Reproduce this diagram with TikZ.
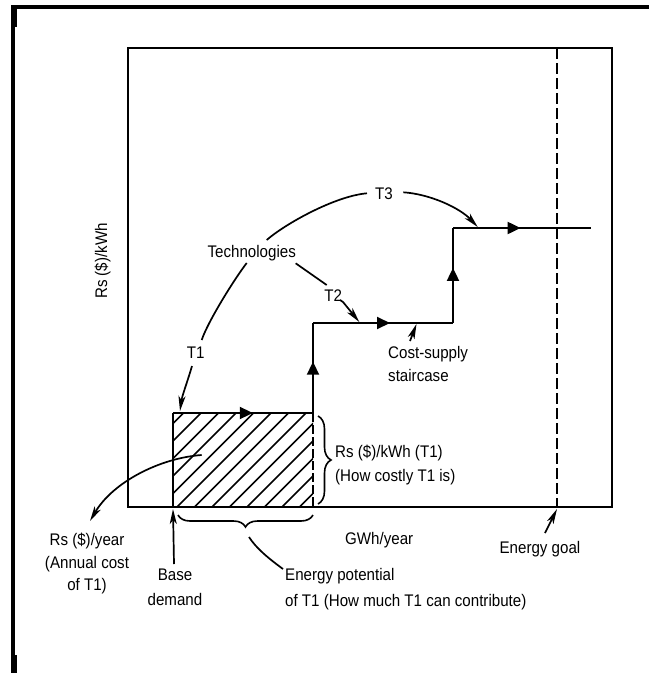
\documentclass[tikz,border=0pt]{standalone}
\usepackage{fontspec}
\setmainfont{Liberation Sans}[FakeStretch=0.9]
\usetikzlibrary{arrows.meta,decorations.pathreplacing,decorations.markings}
\tikzset{
  lbl/.style={inner sep=0pt, font=\fontsize{16.8}{20}\selectfont, anchor=base},
  lblw/.style={lbl, anchor=base west},
  boxline/.style={line width=2pt},
  stair/.style={line width=2pt},
  curve/.style={line width=1.7pt},
  carrow/.style={curve, -{Stealth[length=15pt,width=7pt,inset=4pt]}},
  hatchline/.style={line width=1.6pt},
  midarrow/.style={postaction={decorate}, decoration={markings,
      mark=at position #1 with {\arrow{Triangle[length=13pt,width=12pt]}}}},
  bracedeco/.style={line width=1.6pt, decorate, decoration={brace, amplitude=#1}}
}
\begin{document}
\begin{tikzpicture}[x=1pt,y=-1pt]
\useasboundingbox (0,0) rectangle (649,673);
% outer frame
\fill (11,5) rectangle (649,8.5);
\fill (11,5) rectangle (15,673);
\fill (11,5) rectangle (16.5,27);
\fill (11,655) rectangle (16.5,673);
% inner box
\draw[boxline] (128,48) rectangle (612,507);
% energy goal dashed line
\draw[line width=1.6pt, dash pattern=on 11pt off 4pt] (557,48) -- (557,507);

% hatched rectangle
\begin{scope}
  \clip (173,413) rectangle (313,507);
  \foreach \i in {0,...,14}{
    \draw[hatchline] ({72+\i*17.5},507) -- ++(94,-94);
  }
\end{scope}
\draw[line width=1.8pt, dash pattern=on 9pt off 3pt] (313,413) -- (313,507);
\draw[stair] (173,507) -- (173,413);

% staircase
\coordinate (s1) at (173,413);
\coordinate (s2) at (313,413);
\coordinate (s3) at (313,323);
\coordinate (s4) at (453,323);
\coordinate (s5) at (453,228);
\coordinate (s6) at (591,228);
\draw[stair, midarrow=0.57] (s1) -- (s2);
\draw[stair, midarrow=0.57] (s2) -- (s3);
\draw[stair, midarrow=0.55] (s3) -- (s4);
\draw[stair, midarrow=0.58] (s4) -- (s5);
\draw[stair, midarrow=0.49] (s5) -- (s6);

% labels
\node[lbl] (tech) at (251.7,257.3) {Technologies};
\node[lbl] (t1) at (195.7,358.3) {T1};
\node[lbl] (t2) at (333.3,301.7) {T2};
\node[lbl] (t3) at (384,199.3) {T3};
\node[lblw] (cs1) at (388,358.3) {Cost-supply};
\node[lblw] (cs2) at (388,381.7) {staircase};
\node[lblw] (rk1) at (335,457.3) {Rs (\$)/kWh (T1)};
\node[lblw] (rk2) at (335,481.7) {(How costly T1 is)};
\node[lblw] (gwh) at (345,544) {GWh/year};
\node[lbl] (ry1) at (87,545) {Rs (\$)/year};
\node[lbl] (ry2) at (87,568.5) {(Annual cost};
\node[lbl] (ry3) at (87,590.5) {of T1)};
\node[lbl] (bd1) at (175,580.5) {Base};
\node[lbl] (bd2) at (175,605.5) {demand};
\node[lblw] (ep1) at (285,580.5) {Energy potential};
\node[lblw] (ep2) at (285,606) {of T1 (How much T1 can contribute)};
\node[lbl] (goal) at (540,553) {Energy goal};
\node[lbl, rotate=90] (ylab) at (107,261) {Rs (\$)/kWh};

% T3 connector
\coordinate (t3a) at (266.7,240);
\coordinate (t3b) at (367,193.3);
\coordinate (t3c) at (403.3,192.3);
\coordinate (t3d) at (477.7,227);
\draw[curve] (t3a) .. controls (285,224) and (335,196) .. (t3b);
\draw[carrow] (t3c) .. controls (430,194) and (460,208) .. (t3d);
% T1 connector
\coordinate (t1a) at (246.7,263);
\coordinate (t1b) at (201.7,340);
\coordinate (t1c) at (192,366);
\coordinate (t1d) at (180,411);
\draw[curve] (t1a) .. controls (233.7,280) and (207.7,322) .. (t1b);
\draw[carrow] (t1c) .. controls (188,380) and (182,396) .. (t1d);
% T2 connector
\coordinate (t2a) at (295.7,263.3);
\coordinate (t2b) at (326.7,285);
\coordinate (t2c) at (340,300);
\coordinate (t2d) at (359.3,322);
\draw[curve] (t2a) -- (t2b);
\draw[carrow] (t2c) -- (343,302) -- (t2d);
% cost-supply arrow
\coordinate (csa) at (410,341);
\coordinate (csb) at (416.5,324);
\draw[carrow] (csa) -- (csb);
% annual cost arrow
\coordinate (rya) at (201.7,455);
\coordinate (ryb) at (90,521);
\draw[carrow] (rya) .. controls (160,458) and (113,482) .. (ryb);
% base demand arrow
\coordinate (bda) at (174,564);
\coordinate (bdb) at (173,509);
\draw[carrow] (bda) -- (bdb);
% energy goal arrow
\coordinate (ega) at (545,533);
\coordinate (egb) at (557,509);
\draw[carrow] (ega) -- (egb);
% braces
\draw[bracedeco=12pt] (313,515) -- (178,515);
\draw[bracedeco=13pt] (318,416) -- (318,504);
% energy potential connector
\coordinate (epa) at (249,537);
\coordinate (epb) at (283,569);
\draw[curve] (epa) .. controls (256,548) and (268,558) .. (epb);
\end{tikzpicture}
\end{document}
